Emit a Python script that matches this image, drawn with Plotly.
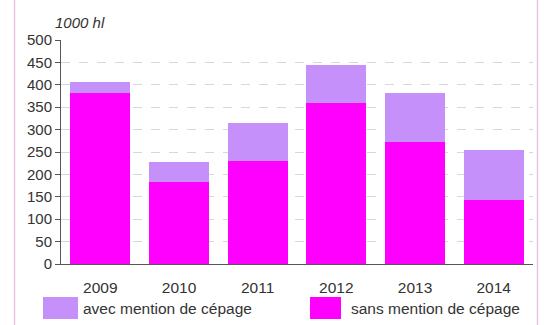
import plotly.graph_objects as go

years = ["2009", "2010", "2011", "2012", "2013", "2014"]
sans_mention = [381, 184, 231, 360, 272, 142]
avec_mention = [26, 44, 84, 84, 110, 112]
y_ticks = [0, 50, 100, 150, 200, 250, 300, 350, 400, 450, 500]

COL_SANS = "#FF00FF"
COL_AVEC = "#C690FA"
FONT = "Liberation Sans, Arial, sans-serif"
TXT = "#333333"

fig = go.Figure()
fig.add_trace(go.Bar(x=years, y=sans_mention, name="sans mention de cépage",
                     marker=dict(color=COL_SANS, line=dict(width=0))))
fig.add_trace(go.Bar(x=years, y=avec_mention, name="avec mention de cépage",
                     marker=dict(color=COL_AVEC, line=dict(width=0))))

W, H = 544, 325
ML, MR, MT, MB = 61, 11, 40, 61

fig.update_layout(
    width=W, height=H,
    margin=dict(l=ML, r=MR, t=MT, b=MB),
    barmode="stack", bargap=0.24,
    showlegend=False,
    plot_bgcolor="white", paper_bgcolor="white",
    font=dict(family=FONT, size=15, color=TXT),
)
fig.update_yaxes(
    range=[0, 500], tickvals=y_ticks, ticks="outside", ticklen=5,
    tickcolor="#555555", showline=True, linecolor="#555555", linewidth=1,
    showgrid=True, gridcolor="#D8D8D8", griddash="dash", gridwidth=1,
    zeroline=False, tickfont=dict(size=15, color=TXT),
)
fig.update_xaxes(
    showline=True, linecolor="#555555", linewidth=1, ticks="",
    ticklabelstandoff=9,
    tickfont=dict(size=15.5, color=TXT),
)

plot_w = W - ML - MR
plot_h = H - MT - MB


def px_x(px):
    return (px - ML) / plot_w


def px_y(py):
    return 1 - (py - MT) / plot_h


# unit label
fig.add_annotation(text="<i>1000 hl</i>", xref="paper", yref="paper",
                   x=px_x(53), y=px_y(22), xanchor="left", yanchor="middle",
                   showarrow=False, font=dict(size=15, color=TXT))

# legend: swatches + labels below the axis
legend_items = [
    ("avec mention de cépage", COL_AVEC, 43, 78, 81),
    ("sans mention de cépage", COL_SANS, 310, 341, 349),
]
for label, col, x0, x1, xt in legend_items:
    fig.add_shape(type="rect", xref="paper", yref="paper",
                  x0=px_x(x0), x1=px_x(x1), y0=px_y(319), y1=px_y(297),
                  fillcolor=col, line=dict(width=0))
    fig.add_annotation(text=label, xref="paper", yref="paper",
                       x=px_x(xt), y=px_y(308), xanchor="left", yanchor="middle",
                       showarrow=False, font=dict(size=15.5, color=TXT))

# frame lines at the sides
for xp in (14.5, 537.5):
    fig.add_shape(type="line", xref="paper", yref="paper",
                  x0=px_x(xp), x1=px_x(xp), y0=px_y(0), y1=px_y(H),
                  line=dict(color="#EBC3DF", width=1.5))

fig.write_html("out.html")
